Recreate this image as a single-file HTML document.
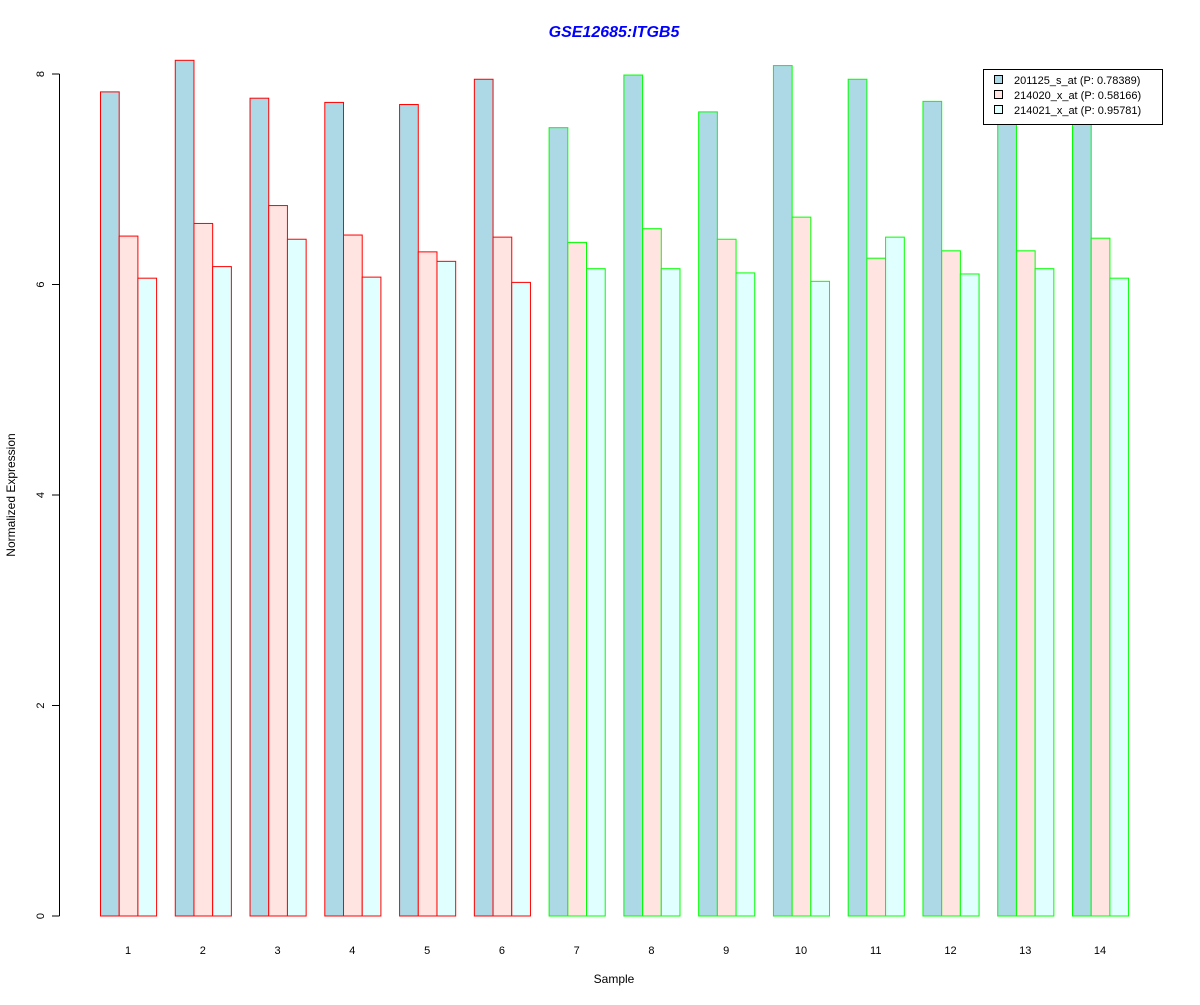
<!DOCTYPE html>
<html><head><meta charset="utf-8"><style>
body{margin:0;background:#fff}
svg text{font-family:"Liberation Sans",Arial,sans-serif}
</style></head><body>
<svg id="chart" width="1200" height="1000" xmlns="http://www.w3.org/2000/svg">
<rect width="1200" height="1000" fill="#fff"/>
<text x="614" y="37" text-anchor="middle" font-size="16" font-weight="bold" font-style="italic" fill="#0000ff">GSE12685:ITGB5</text>
<text x="614" y="983" text-anchor="middle" font-size="12">Sample</text>
<text transform="translate(15,495) rotate(-90)" text-anchor="middle" font-size="12">Normalized Expression</text>
<g id="bars"></g>
<g id="axis"></g>
<g>
<rect x="983.5" y="69.5" width="179" height="55" fill="#fff" stroke="#000"/>
<rect x="994.5" y="75.5" width="8" height="8" fill="#add8e6" stroke="#000"/>
<text x="1014" y="84" font-size="11">201125_s_at (P: 0.78389)</text>
<rect x="994.5" y="90.5" width="8" height="8" fill="#ffe4e1" stroke="#000"/>
<text x="1014" y="99" font-size="11">214020_x_at (P: 0.58166)</text>
<rect x="994.5" y="105.5" width="8" height="8" fill="#e0ffff" stroke="#000"/>
<text x="1014" y="114" font-size="11">214021_x_at (P: 0.95781)</text>
</g>
</svg>
<script>
const categories=["1","2","3","4","5","6","7","8","9","10","11","12","13","14"];
const series1=[7.83,8.13,7.77,7.73,7.71,7.95,7.49,7.99,7.64,8.08,7.95,7.74,7.75,7.72];
const series2=[6.46,6.58,6.75,6.47,6.31,6.45,6.40,6.53,6.43,6.64,6.25,6.32,6.32,6.44];
const series3=[6.06,6.17,6.43,6.07,6.22,6.02,6.15,6.15,6.11,6.03,6.45,6.10,6.15,6.06];
const groupColor=["red","red","red","red","red","red","lime","lime","lime","lime","lime","lime","lime","lime"];
const yTicks=[0,2,4,6,8];
const NS="http://www.w3.org/2000/svg";
const y=v=>916-v*105.25;
const gx=i=>100+i*74.77;
const bw=18.7;
const fills=["#add8e6","#ffe4e1","#e0ffff"];
const bars=document.getElementById('bars');
const ax=document.getElementById('axis');
[series1,series2,series3].forEach((s,k)=>{
 s.forEach((v,i)=>{
  const r=document.createElementNS(NS,'rect');
  
  
  r.setAttribute('x',gx(i)+k*bw+0.5);r.setAttribute('y',y(v));
  r.setAttribute('width',bw);r.setAttribute('height',916-y(v));
  r.setAttribute('fill',fills[k]);r.setAttribute('stroke',groupColor[i]);
  bars.appendChild(r);
 });
});
categories.forEach((c,i)=>{
 const t=document.createElementNS(NS,'text');
 
 
 t.setAttribute('x',gx(i)+1.5*bw);t.setAttribute('y',954);
 t.setAttribute('text-anchor','middle');t.setAttribute('font-size','11');
 t.textContent=c;ax.appendChild(t);
});
const line=document.createElementNS(NS,'line');


line.setAttribute('x1',59.5);line.setAttribute('x2',59.5);line.setAttribute('y1',y(8));line.setAttribute('y2',y(0));line.setAttribute('stroke','#000');
ax.appendChild(line);
yTicks.forEach(v=>{
 const l=document.createElementNS(NS,'line');
 
 
 l.setAttribute('x1',52);l.setAttribute('x2',59.5);l.setAttribute('y1',y(v));l.setAttribute('y2',y(v));l.setAttribute('stroke','#000');
 ax.appendChild(l);
 const t=document.createElementNS(NS,'text');
 
 
 t.setAttribute('transform','translate(44,'+y(v)+') rotate(-90)');
 t.setAttribute('text-anchor','middle');t.setAttribute('font-size','11');
 t.textContent=v;ax.appendChild(t);
});
</script>
</body></html>
